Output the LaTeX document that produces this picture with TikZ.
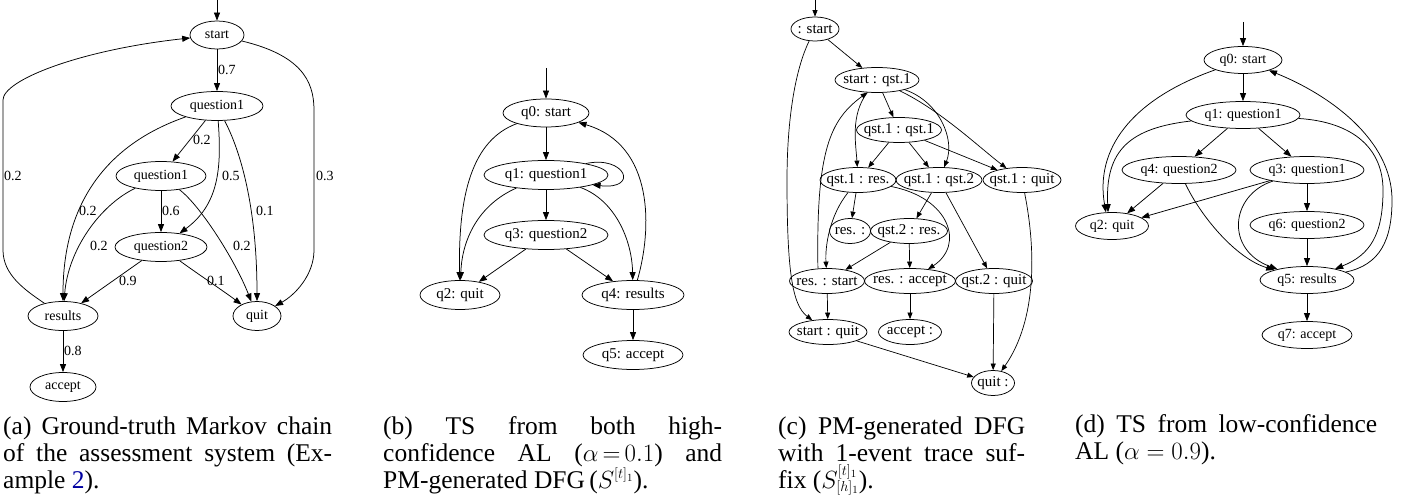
\documentclass[tikz,border=0pt]{standalone}
\usepackage{fontspec}
\setmainfont{Liberation Serif}
\usetikzlibrary{shapes.geometric,arrows.meta}
\definecolor{linkblue}{RGB}{0,0,160}
\newcommand\myFontA{\fontsize{14}{16}\selectfont}
\newcommand\myFontB{\fontsize{15}{17}\selectfont}
\newcommand\myCapFont{\fontsize{25.5}{27}\selectfont}
\DeclareMathSizes{25.5}{25.5}{14}{11}
\begin{document}
\begin{tikzpicture}[x=1pt,y=-1pt,
  st/.style={draw, ellipse, inner xsep=-8pt, inner ysep=0pt, line width=0.75pt, minimum height=29},
  ar/.style={-{Triangle[length=8pt,width=6pt]}, line width=0.75pt},
  arc/.style={-{Triangle[length=6.5pt,width=5pt]}, line width=0.7pt},
  lbl/.style={anchor=west, inner sep=0pt, font=\myFontA},
  captext/.style={anchor=base west, inner sep=0pt, font=\myCapFont}]
\useasboundingbox (0,0) rectangle (1412,502);

% ---------------- (a) ----------------
\begin{scope}[every node/.append style={font=\myFontA}]
\coordinate (aI) at (217,0);
\node[st, minimum width=54, minimum height=28] (aS) at (217,35) {start};
\node[st, minimum width=92] (aQ1) at (217,106) {question1};
\node[st, minimum width=90] (aQ1b) at (161,176) {question1};
\node[st, minimum width=92] (aQ2) at (161,247) {question2};
\node[st, minimum width=70] (aR) at (63,316) {results};
\node[st, minimum width=48] (aQ) at (257,316) {quit};
\node[st, minimum width=66] (aA) at (63,387) {accept};
\end{scope}
\draw[ar] (aI) -- (aS);
\draw[ar] (aS) -- (aQ1);
\draw[ar] (aS) .. controls (300,55) and (314,80) .. (314,110) -- (314,250) .. controls (314,275) and (295,295) .. (aQ);
\draw[ar] (aR) .. controls (25,290) and (3,275) .. (3,250) -- (3,100) .. controls (3,80) and (80,50) .. (aS);
\draw[ar] (aQ1) -- (aQ1b);
\draw[ar] (aQ1) .. controls (105,145) and (63,205) .. (aR);
\draw[ar] (aQ1) .. controls (222,170) and (218,205) .. (aQ2);
\draw[ar] (aQ1) .. controls (245,160) and (257,220) .. (aQ);
\draw[ar] (aQ1b) -- (aQ2);
\draw[ar] (aQ1b) .. controls (100,205) and (68,250) .. (aR);
\draw[ar] (aQ1b) .. controls (200,205) and (235,260) .. (aQ);
\draw[ar] (aQ2) -- (aR);
\draw[ar] (aQ2) .. controls (195,272) and (222,290) .. (aQ);
\draw[ar] (aR) -- (aA);
\node[lbl] (aL1) at (218,70) {0.7};
\node[lbl] (aL2) at (316,176) {0.3};
\node[lbl] (aL3) at (4,176) {0.2};
\node[lbl] (aL4) at (193,140) {0.2};
\node[lbl] (aL5) at (79,211) {0.2};
\node[lbl] (aL6) at (222,176) {0.5};
\node[lbl] (aL7) at (256,211) {0.1};
\node[lbl] (aL8) at (162,211) {0.6};
\node[lbl] (aL9) at (90,246) {0.2};
\node[lbl] (aL10) at (233,246) {0.2};
\node[lbl] (aL11) at (119,281) {0.9};
\node[lbl] (aL12) at (207,281) {0.1};
\node[lbl] (aL13) at (64,351) {0.8};

% ---------------- (b) ----------------
\begin{scope}[every node/.append style={font=\myFontB}]
\coordinate (bI) at (546,68);
\node[st, minimum width=86, minimum height=28] (b0) at (546,113) {q0: start};
\node[st, minimum width=124] (b1) at (546,175) {q1: question1};
\node[st, minimum width=124] (b3) at (546,235) {q3: question2};
\node[st, minimum width=80] (b2) at (460,295) {q2: quit};
\node[st, minimum width=102] (b4) at (633,295) {q4: results};
\node[st, minimum width=100] (b5) at (633,355) {q5: accept};
\end{scope}
\draw[ar] (bI) -- (b0);
\draw[ar] (b0) -- (b1);
\draw[ar] (b0) .. controls (472,140) and (458,195) .. (b2);
\draw[ar] (b1) .. controls (478,205) and (462,240) .. (b2);
\draw[ar] (b1.16) .. controls (625,155) and (640,190) .. (b1.-12);
\draw[ar] (b1) -- (b3);
\draw[ar] (b1) .. controls (615,200) and (632,240) .. (b4);
\draw[ar] (b3) -- (b2);
\draw[ar] (b3) -- (b4);
\draw[ar] (b4) .. controls (652,230) and (655,145) .. (b0);
\draw[ar] (b4) -- (b5);

% ---------------- (c) ----------------
\begin{scope}[every node/.append style={font=\myFontB}, st/.append style={minimum height=25}]
\coordinate (cI) at (815,0);
\node[st, minimum width=48, minimum height=24] (cS) at (815,29) {: start};
\node[st, minimum width=84] (cSQ) at (877,80) {start : qst.1};
\node[st, minimum width=85] (cQQ) at (899,130) {qst.1 : qst.1};
\node[st, minimum width=76] (cQR) at (858,180) {qst.1 : res.};
\node[st, minimum width=86] (cQQ2) at (939,180) {qst.1 : qst.2};
\node[st, minimum width=78] (cQQu) at (1022,180) {qst.1 : quit};
\node[st, minimum width=41] (cR) at (850,231) {res. :};
\node[st, minimum width=77] (cQ2R) at (909,231) {qst.2 : res.};
\node[st, minimum width=75] (cRS) at (827,281) {res. : start};
\node[st, minimum width=91] (cRA) at (910,281) {res. : accept};
\node[st, minimum width=77] (cQ2Q) at (994,281) {qst.2 : quit};
\node[st, minimum width=78] (cSQu) at (828,332) {start : quit};
\node[st, minimum width=63] (cA) at (910,332) {accept :};
\node[st, minimum width=43] (cQu) at (993,383) {quit :};
\end{scope}
\draw[arc] (cI) -- (cS);
\draw[arc] (cS) -- (cSQ);
\draw[arc] (cS) .. controls (795,70) and (787,120) .. (787,180) .. controls (787,270) and (792,305) .. (cSQu);
\draw[arc] (cSQ) -- (cQQ);
\draw[arc] (cSQ) .. controls (850,115) and (856,145) .. (cQR);
\draw[arc] (cSQ) .. controls (940,102) and (955,140) .. (cQQ2);
\draw[arc] (cSQ) .. controls (940,110) and (980,148) .. (cQQu);
\draw[arc] (cRS.126) .. controls (816,150) and (830,120) .. (cSQ.-128);
\draw[arc] (cQQ) -- (cQR);
\draw[arc] (cQQ) -- (cQQ2);
\draw[arc] (cQQ) -- (cQQu);
\draw[arc] (cQR) -- (cR);
\draw[arc] (cQR) .. controls (830,215) and (825,245) .. (cRS);
\draw[arc] (cQR) .. controls (950,198) and (965,245) .. (cRA);
\draw[arc] (cQQ2) -- (cQ2R);
\draw[arc] (cQQ2) -- (cQ2Q);
\draw[arc] (cQ2R) -- (cRS);
\draw[arc] (cQ2R) -- (cRA);
\draw[arc] (cRS) -- (cSQu);
\draw[arc] (cRA) -- (cA);
\draw[arc] (cQ2Q) -- (cQu);
\draw[arc] (cQQu) .. controls (1036,250) and (1037,320) .. (cQu);
\draw[arc] (cSQu) -- (cQu);

% ---------------- (d) ----------------
\begin{scope}[every node/.append style={font=\myFontA}, st/.append style={minimum height=27}]
\coordinate (dI) at (1243,22);
\node[st, minimum width=78] (d0) at (1243,60) {q0: start};
\node[st, minimum width=114] (d1) at (1243,115) {q1: question1};
\node[st, minimum width=114] (d4) at (1179,170) {q4: question2};
\node[st, minimum width=114] (d3) at (1307,170) {q3: question1};
\node[st, minimum width=73] (d2) at (1112,226) {q2: quit};
\node[st, minimum width=114] (d6) at (1307,225) {q6: question2};
\node[st, minimum width=94] (d5) at (1307,280) {q5: results};
\node[st, minimum width=90] (d7) at (1307,335) {q7: accept};
\end{scope}
\draw[ar] (dI) -- (d0);
\draw[ar] (d0) -- (d1);
\draw[ar] (d0) .. controls (1130,100) and (1095,150) .. (d2.114);
\draw[ar] (d1) .. controls (1130,128) and (1105,150) .. (d2.106);
\draw[ar] (d1) -- (d4);
\draw[ar] (d1) -- (d3);
\draw[ar] (d1) .. controls (1355,122) and (1383,150) .. (1383,190) .. controls (1383,235) and (1370,255) .. (d5);
\draw[ar] (d4) -- (d2);
\draw[ar] (d4) .. controls (1200,215) and (1235,258) .. (d5);
\draw[ar] (d3) -- (d2);
\draw[ar] (d3) .. controls (1230,195) and (1225,250) .. (d5);
\draw[ar] (d3) -- (d6);
\draw[ar] (d6) -- (d5);
\draw[ar] (d5) .. controls (1380,265) and (1392,240) .. (1392,200) .. controls (1392,140) and (1330,95) .. (d0);
\draw[ar] (d5) -- (d7);

% ---------------- captions ----------------
\node[captext] (capA1) at (3,434) {\makebox[329pt][s]{(a) Ground-truth Markov chain}};
\node[captext] (capA2) at (3,461) {\makebox[329pt][s]{of the assessment system (Ex-}};
\node[captext] (capA3) at (3,488) {ample \textcolor{linkblue}{2}).};

\node[captext] (capB1) at (383,434) {\makebox[339pt][s]{(b) TS from both high-}};
\node[captext] (capB2) at (383,461) {\makebox[339pt][s]{confidence AL ($\alpha\,{=}\,0.1$) and}};
\node[captext] (capB3) at (383,488) {PM-generated DFG\,($S^{[t]_1}$).};

\node[captext] (capC1) at (778,434) {\makebox[247pt][s]{(c) PM-generated DFG}};
\node[captext] (capC2) at (778,461) {\makebox[247pt][s]{with 1-event trace suf-}};
\node[captext] (capC3) at (778,488) {fix ($S^{[t]_1}_{[h]_1}$).};

\node[captext] (capD1) at (1075,432) {\makebox[302pt][s]{(d) TS from low-confidence}};
\node[captext] (capD2) at (1075,459) {AL ($\alpha = 0.9$).};
\end{tikzpicture}
\end{document}
